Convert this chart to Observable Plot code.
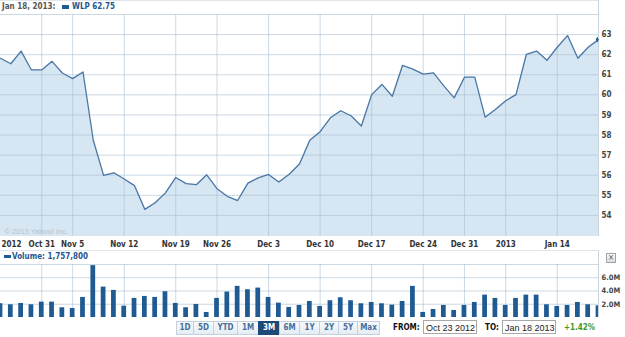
<!DOCTYPE html>
<html>
<head>
<meta charset="utf-8">
<script src="https://cdn.jsdelivr.net/npm/d3@7"></script>
<script src="https://cdn.jsdelivr.net/npm/@observablehq/plot@0.6"></script>
<style>
  html, body { margin: 0; padding: 0; background: #fff; }
  #wrap { position: relative; width: 625px; height: 337px; overflow: hidden; font-family: "DejaVu Sans Condensed", "Liberation Sans", sans-serif; }
  .abs { position: absolute; white-space: nowrap; }
  .btn { position: absolute; top: 321px; height: 12px; border: 1px solid #c3d1de; background: linear-gradient(#f7fafc, #e4ecf3);
         color: #46709b; font-weight: bold; font-size: 8px; line-height: 12px; text-align: center; box-sizing: content-box; }
  .btn.sel { background: #1d4a78; color: #fff; border-color: #1d4a78; }
  .box { position: absolute; top: 320px; height: 14px; border: 1px solid #a8a8a8; background: #fff; font-family: "Liberation Sans", Arial, sans-serif;
         font-size: 9px; line-height: 14px; color: #222; padding-left: 2px; box-sizing: border-box; }
</style>
</head>
<body>
<div id="wrap"></div>
<script>
// ---- data ----
const dates = ["Oct 23","Oct 24","Oct 25","Oct 26","Oct 31","Nov 1","Nov 2","Nov 5","Nov 6","Nov 7","Nov 8","Nov 9",
  "Nov 12","Nov 13","Nov 14","Nov 15","Nov 16","Nov 19","Nov 20","Nov 21","Nov 23","Nov 26","Nov 27","Nov 28","Nov 29","Nov 30",
  "Dec 3","Dec 4","Dec 5","Dec 6","Dec 7","Dec 10","Dec 11","Dec 12","Dec 13","Dec 14","Dec 17","Dec 18","Dec 19","Dec 20","Dec 21",
  "Dec 24","Dec 26","Dec 27","Dec 28","Dec 31","Jan 2","Jan 3","Jan 4","Jan 7","Jan 8","Jan 9","Jan 10","Jan 11",
  "Jan 14","Jan 15","Jan 16","Jan 17","Jan 18"];
const price = [61.82,61.55,62.18,61.24,61.24,61.67,61.09,60.81,61.14,57.74,55.99,56.12,
  55.81,55.48,54.30,54.63,55.12,55.89,55.58,55.53,56.02,55.33,54.95,54.74,55.61,55.87,
  56.04,55.66,56.05,56.56,57.74,58.17,58.86,59.21,58.96,58.45,60.01,60.52,59.93,61.47,61.28,
  61.03,61.09,60.45,59.85,60.88,60.88,58.89,59.27,59.71,60.01,62.01,62.18,61.72,
  62.37,62.95,61.82,62.37,62.75];
const volume = [2.08,1.92,2.12,1.92,2.32,2.32,1.47,1.36,3.03,7.83,4.59,4.09,
  1.71,2.88,3.18,3.03,3.89,2.12,1.47,1.97,0.76,2.88,3.84,4.70,4.19,4.44,
  3.03,2.17,1.52,1.82,2.42,1.67,2.53,2.98,2.53,2.07,2.27,2.07,1.87,2.42,4.70,
  0.76,1.21,1.82,1.06,1.82,2.27,3.38,2.88,1.82,2.88,3.38,3.38,1.92,
  1.67,1.82,2.27,1.92,1.76];
const xTickDates = ["Oct 31","Nov 5","Nov 12","Nov 19","Nov 26","Dec 3","Dec 10","Dec 17","Dec 24","Dec 31","Jan 7","Jan 14"];
const xTickLabels = ["Oct 31","Nov 5","Nov 12","Nov 19","Nov 26","Dec 3","Dec 10","Dec 17","Dec 24","Dec 31","2013","Jan 14"];
const priceTicks = [54,55,56,57,58,59,60,61,62,63];
const priceGrid = [54,55,56,57,58,59,60,61,62,63,64];
const volTicks = [2,4,6];
const volGrid = [2,4,6,8];
const rangeButtons = ["1D","5D","YTD","1M","3M","6M","1Y","2Y","5Y","Max"];

// ---- derived table ----
const rows = dates.map((d, i) => ({i, d, p: price[i], v: volume[i]}));
const tickIdx = xTickDates.map(d => dates.indexOf(d));
const tickLab = new Map(tickIdx.map((t, k) => [t, xTickLabels[k]]));
const yMin = 52.95;
const gridColor = "#a9bfd3";
const fontFamily = "'DejaVu Sans Condensed', 'Liberation Sans', sans-serif";

const wrap = document.getElementById("wrap");

const main = Plot.plot({
  width: 625, height: 250,
  marginTop: 14, marginBottom: 14, marginLeft: 0, marginRight: 27,
  x: {domain: [0, dates.length - 1], label: null, axis: null},
  y: {domain: [yMin, 64], label: null, axis: null},
  style: {fontFamily, fontSize: "8px", background: "transparent", overflow: "visible"},
  marks: [
    Plot.areaY(rows, {x: "i", y1: yMin, y2: "p", fill: "#d6e6f2"}),
    Plot.gridY(priceGrid, {stroke: gridColor, strokeOpacity: 0.6}),
    Plot.gridX(tickIdx, {stroke: gridColor, strokeOpacity: 0.6}),
    Plot.ruleX([dates.length - 1], {stroke: "#c9d5df"}),
    Plot.text(["© 2013 Yahoo! Inc."], {frameAnchor: "bottom-left", dx: 4, dy: -3, textAnchor: "start", fill: "#b3c3d1", fontSize: 7.5, fontFamily: "'Liberation Sans', sans-serif"}),
    Plot.lineY(rows, {x: "i", y: "p", stroke: "#4a77a5", strokeWidth: 1.3}),
    Plot.dot([rows[rows.length - 1]], {x: "i", y: "p", r: 2.6, fill: "#2b5e95", clip: true}),
    Plot.axisY(priceTicks, {anchor: "right", tickSize: 0, tickPadding: 3, fontWeight: "bold", fontSize: 8, fill: "#444", label: null}),
    Plot.axisX(tickIdx, {anchor: "bottom", tickSize: 0, tickPadding: 5, tickFormat: i => tickLab.get(i), fontWeight: "bold", fontSize: 8, fill: "#333", label: null}),
    Plot.axisX([0], {anchor: "bottom", tickSize: 0, tickPadding: 5, tickFormat: () => "2012", textAnchor: "start", dx: 1, fontWeight: "bold", fontSize: 8, fill: "#333", label: null})
  ]
});
main.style.position = "absolute"; main.style.left = "0px"; main.style.top = "0px";
wrap.appendChild(main);

const vol = Plot.plot({
  width: 625, height: 70,
  marginTop: 14, marginBottom: 3, marginLeft: 0, marginRight: 27,
  x: {domain: [0, dates.length - 1], label: null, axis: null},
  y: {domain: [0, 8], label: null, axis: null},
  style: {fontFamily, fontSize: "8px", background: "transparent", overflow: "visible"},
  marks: [
    Plot.gridY(volGrid, {stroke: gridColor, strokeOpacity: 0.6}),
    Plot.gridX(tickIdx, {stroke: gridColor, strokeOpacity: 0.6}),
    Plot.ruleX([dates.length - 1], {stroke: "#c9d5df"}),
    Plot.rectY(rows, {x1: d => d.i - 0.23, x2: d => d.i + 0.23, y1: 0, y2: "v", fill: "#1f5a93", clip: true}),
    Plot.axisY(volTicks, {anchor: "right", tickSize: 0, tickPadding: 3, tickFormat: d => d.toFixed(1) + "M", fontWeight: "bold", fontSize: 7.5, fill: "#444", label: null})
  ]
});
vol.style.position = "absolute"; vol.style.left = "0px"; vol.style.top = "250px";
wrap.appendChild(vol);

// ---- html chrome ----
function add(html, style) {
  const el = document.createElement("div");
  el.className = "abs";
  el.innerHTML = html;
  Object.assign(el.style, style);
  wrap.appendChild(el);
  return el;
}
// frame lines
add("", {left: "0px", top: "0px", width: "598px", height: "0px", borderTop: "1px solid #dfe6ec"});
add("", {left: "598px", top: "0px", width: "0px", height: "14px", borderLeft: "1px solid #c9d5df"});
add("", {left: "0px", top: "250px", width: "598px", height: "0px", borderTop: "1px solid #dfe6ec"});
add("", {left: "598px", top: "250px", width: "0px", height: "14px", borderLeft: "1px solid #c9d5df"});
// header
add("Jan 18, 2013:", {left: "2px", top: "2px", fontSize: "8px", fontWeight: "bold", color: "#555", lineHeight: "10px"});
add("", {left: "62px", top: "5px", width: "7px", height: "4px", background: "#1f5a93"});
add("WLP " + price[price.length - 1].toFixed(2), {left: "72px", top: "2px", fontSize: "8px", fontWeight: "bold", color: "#1f5590", lineHeight: "10px"});
// volume header
add("", {left: "4px", top: "255px", width: "7px", height: "3px", background: "#1f5a93"});
add("Volume: " + d3.format(",")(1757800), {left: "12px", top: "252px", fontSize: "8px", fontWeight: "bold", color: "#1f5590", lineHeight: "10px"});
add("×", {left: "606px", top: "253px", width: "8px", height: "8px", border: "1px solid #9aa4ad", background: "linear-gradient(#fafafa,#dcdcdc)", fontSize: "8px", lineHeight: "8px", textAlign: "center", color: "#555"});
// range buttons
const btnX = [176,193,213,237,258,279,299,319,338,357,379];
rangeButtons.forEach((b, k) => {
  const el = document.createElement("div");
  el.className = "btn" + (b === "3M" ? " sel" : "");
  el.textContent = b;
  el.style.left = btnX[k] + "px";
  el.style.width = (btnX[k + 1] - btnX[k] - 1) + "px";
  wrap.appendChild(el);
});
add("FROM:", {left: "393px", top: "323px", fontSize: "8px", fontWeight: "bold", color: "#111", lineHeight: "10px"});
const b1 = document.createElement("div"); b1.className = "box"; b1.textContent = "Oct 23 2012";
b1.style.left = "423px"; b1.style.width = "54px"; wrap.appendChild(b1);
add("TO:", {left: "485px", top: "323px", fontSize: "8px", fontWeight: "bold", color: "#111", lineHeight: "10px"});
const b2 = document.createElement("div"); b2.className = "box"; b2.textContent = "Jan 18 2013";
b2.style.left = "502px"; b2.style.width = "54px"; wrap.appendChild(b2);
add("+1.42%", {left: "564px", top: "323px", fontSize: "8px", fontWeight: "bold", color: "#3a9a2e", lineHeight: "10px"});
</script>
</body>
</html>
